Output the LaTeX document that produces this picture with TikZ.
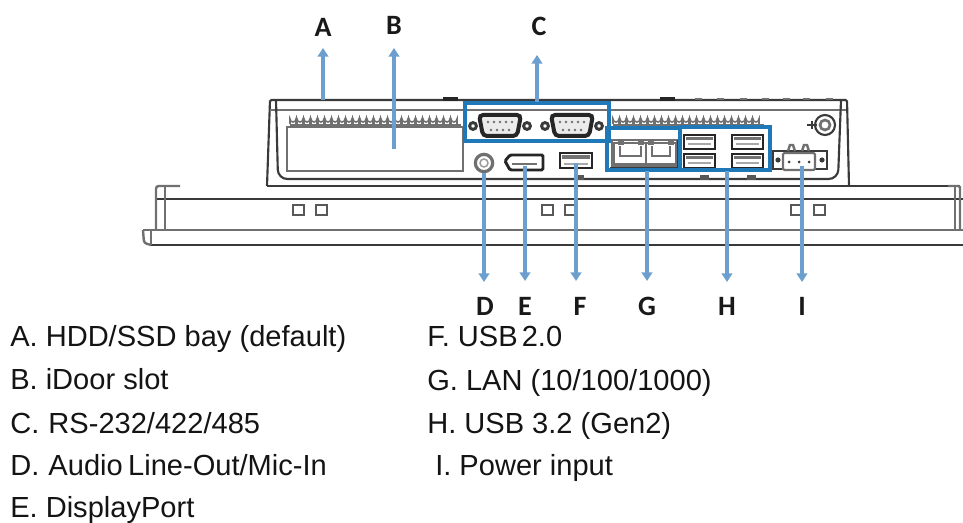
\documentclass[tikz,border=0pt]{standalone}
\usepackage{fontspec}
\setmainfont{Liberation Sans}
\newfontfamily\lettersfont{Carlito}[Scale=1]
\usetikzlibrary{arrows.meta}
\definecolor{ink}{HTML}{3A3A3A}
\definecolor{softink}{HTML}{707070}
\definecolor{framebl}{HTML}{1F78B8}
\definecolor{arrowbl}{HTML}{6C9FCE}
\tikzset{
  px/.style={x=0.75pt,y=-0.75pt},
  edge/.style={draw=ink,line width=1.6pt},
  thinedge/.style={draw=softink,line width=1.1pt},
  softedge/.style={draw=softink,line width=1.8pt},
  bluebox/.style={draw=framebl,line width=2.6pt},
  callout/.style={draw=arrowbl,line width=2.6pt,-{Triangle[width=8pt,length=6.5pt]}},
  letterlabel/.style={font=\lettersfont\bfseries\fontsize{21}{24}\selectfont,text=black!90,inner sep=0pt,anchor=base},
  legend/.style={font=\fontsize{21.8}{25}\selectfont,text=black!92,inner sep=0pt,anchor=base west},
  squarehole/.style={draw=ink!85,line width=1.1pt},
  darkport/.style={draw=black!85,line width=2.2pt,fill=white},
}
\newcommand{\dbnine}[2]{%
  \begin{scope}[shift={(#1,#2)}]
    \draw[draw=black!85,line width=3pt,fill=white!92!black,rounded corners=3pt] (-21,-11) -- (21,-11) -- (17,10) -- (-17,10) -- cycle;
    \foreach \i in {-12,-6,0,6,12} \fill[softink] (\i,-4) circle (1.4);
    \foreach \i in {-9,-3,3,9} \fill[softink] (\i,4) circle (1.4);
    \draw[draw=ink,line width=2.2pt,fill=white] (-27,0) circle (3.4);
    \draw[draw=ink,line width=2.2pt,fill=white] (27,0) circle (3.4);
  \end{scope}}
\newcommand{\usbport}[2]{%
  \draw[darkport] (#1,#2) rectangle ++(31,14);
  \fill[black!55] (#1+2,#2+2) rectangle ++(27,3);
  \fill[softink!60] (#1+4,#2+8) rectangle ++(23,2);}
\begin{document}
\begin{tikzpicture}[px]
\useasboundingbox (0,0) rectangle (963,523);
\fill[white] (0,0) rectangle (963,523);

% enclosure
\draw[edge,rounded corners=1pt] (267,186) -- (270,100) -- (847,100) -- (849,186);
\draw[softedge] (271,110) -- (846,110);
\draw[edge,rounded corners=7pt] (276,100) -- (278,179) -- (838,179) -- (841,100);
\foreach \x/\w in {443/15,660/15}
  \draw[black!85,line width=2.4pt] (\x,99) -- ++(\w,0);
\foreach \x in {695,717,740,762,783,803,826}
  \draw[softink,line width=1.4pt] (\x,99) -- ++(7,0);

% vents
\foreach \x in {290,297,...,456}
  \draw[softink,line width=1.2pt] (\x,124) -- (\x,119) arc[start angle=180,end angle=0,radius=3] -- (\x+6,124);
\foreach \x in {613,620,...,759}
  \draw[softink,line width=1.2pt] (\x,124) -- (\x,119) arc[start angle=180,end angle=0,radius=3] -- (\x+6,124);
\draw[softink,line width=1.6pt] (290,125) -- (461,125) (613,125) -- (764,125);

% iDoor
\draw[softedge] (287,127) rectangle (463,171);

% panel
\draw[edge] (267,186) -- (960,186);
\draw[edge,line width=2pt] (156,199) -- (963,199);
\draw[softedge] (143,230) -- (963,230);
\draw[edge,line width=2pt] (151,245) -- (963,245);
\draw[softedge,rounded corners=2pt] (156,230) -- (156,186) -- (180,186);
\draw[softedge] (165,186) -- (165,230);
\draw[softedge] (955,186) -- (955,230);
\draw[softedge,rounded corners=1pt] (948,186) -- (960,186) -- (960,230);
\draw[softedge,rounded corners=2pt] (143,230) -- (144,243) -- (151,245);
\draw[softedge] (151,230) -- (151,245);
\foreach \x in {293,316,542,565,791,814}
  \draw[squarehole] (\x,205) rectangle ++(11,10);

% ports
\dbnine{500}{126}
\dbnine{572}{126}
\node[circle,draw=softink,line width=2.4pt,fill=white,minimum size=13pt,inner sep=0pt] (jack) at (484,163) {};
\node[circle,draw=softink!70,line width=1.1pt,minimum size=6pt,inner sep=0pt] at (484,163) {};
\draw[darkport,rounded corners=1pt] (505,161) -- (510,155) -- (543,155) -- (543,170) -- (510,170) -- cycle;
\draw[softink,line width=1.6pt] (512,164) -- (537,164);
\draw[darkport] (560,153) rectangle (592,168);
\fill[black!55] (562,155) rectangle (590,159);
\fill[softink!60] (564,163) rectangle (588,165);
\foreach \x in {575,700,747}
  \fill[ink!85] (\x,175) rectangle ++(9,5);

% LAN
\draw[softink,line width=1.6pt] (612,140) rectangle (677,166);
\draw[softedge,fill=white] (614,143) -- (647,143) -- (647,164) -- (614,164) -- cycle;
\draw[softedge,fill=white] (646,143) -- (676,143) -- (676,164) -- (646,164) -- cycle;
\draw[softink,line width=1.2pt] (620,146) -- (620,156) -- (641,156) -- (641,146);
\draw[softink,line width=1.2pt] (652,146) -- (652,156) -- (670,156) -- (670,146);
\foreach \x in {618,638,648,668}
  \fill[softink] (\x,141) rectangle ++(6,4);
\draw[ink,line width=2pt] (678,140) -- (678,168) -- (610,168);

% USB 3.2
\usbport{684}{135}
\usbport{684}{154}
\usbport{732}{135}
\usbport{732}{154}

% power jack and connector
\draw[ink,line width=1.6pt] (825,125) circle (10);
\draw[softink,line width=2pt] (825,125) circle (5);
\draw[ink,line width=2pt] (807,125) -- (817,125) (812,121) -- (812,129);
\draw[ink,line width=1.8pt,fill=white] (773,151) rectangle (827,169);
\fill[ink] (778,160) circle (2.6) (822,160) circle (2.6);
\draw[softink,line width=1.6pt,fill=white,rounded corners=1pt] (783,153) rectangle (815,170);
\foreach \x in {789,799,809} \fill[ink] (\x,162) circle (1.5);
\foreach \x in {788,802}
  \draw[softink,line width=1.8pt] (\x,151) -- (\x+2,145) -- (\x+5,145) -- (\x+7,151);

% blue frames
\draw[bluebox] (465,103) rectangle (609,141);
\draw[bluebox] (607,128) rectangle (680,170);
\draw[bluebox] (680,127) -- (770,127) -- (770,170) -- (680,170);

% arrow anchors
\coordinate (startA) at (323,100); \coordinate (endA) at (323,48);
\coordinate (startB) at (394,149); \coordinate (endB) at (394,48);
\coordinate (startC) at (537,102); \coordinate (endC) at (537,55);
\coordinate (startD) at (jack.south); \coordinate (endD) at (484,282);
\coordinate (startE) at (525,166); \coordinate (endE) at (525,281);
\coordinate (startF) at (576,163); \coordinate (endF) at (576,281);
\coordinate (startG) at (647,171); \coordinate (endG) at (647,281);
\coordinate (startH) at (727,171); \coordinate (endH) at (727,282);
\coordinate (startI) at (802,166); \coordinate (endI) at (802,282);
\foreach \k in {A,...,I}
  \draw[callout] (start\k) -- (end\k);

% letters
\node[letterlabel] (lblA) at (323,37) {A};
\node[letterlabel] (lblB) at (394,35) {B};
\node[letterlabel] (lblC) at (539,36) {C};
\node[letterlabel] (lblD) at (485,316) {D};
\node[letterlabel] (lblE) at (525,316) {E};
\node[letterlabel] (lblF) at (580,316) {F};
\node[letterlabel] (lblG) at (647,316) {G};
\node[letterlabel] (lblH) at (727,316) {H};
\node[letterlabel] (lblI) at (802,316) {I};

% legend
\node[legend] (ta) at (10,347) {A. HDD/SSD bay (default)};
\node[legend] (tb) at (10,390) {B. iDoor slot};
\node[legend] (tc) at (10,433) {C.\hspace{0.8pt} RS-232/422/485};
\node[legend] (td) at (10,475) {D.\hspace{0.8pt} Audio\hspace{-2pt} Line-Out/Mic-In};
\node[legend] (te) at (10,517) {E. DisplayPort};
\node[legend] (tf) at (427,347) {F. USB\hspace{-3pt} 2.0};
\node[legend] (tg) at (427,391) {G. LAN (10/100/1000)};
\node[legend] (th) at (427,433) {H. USB 3.2 (Gen2)};
\node[legend] (ti) at (435,475) {I. Power input};
\end{tikzpicture}
\end{document}
